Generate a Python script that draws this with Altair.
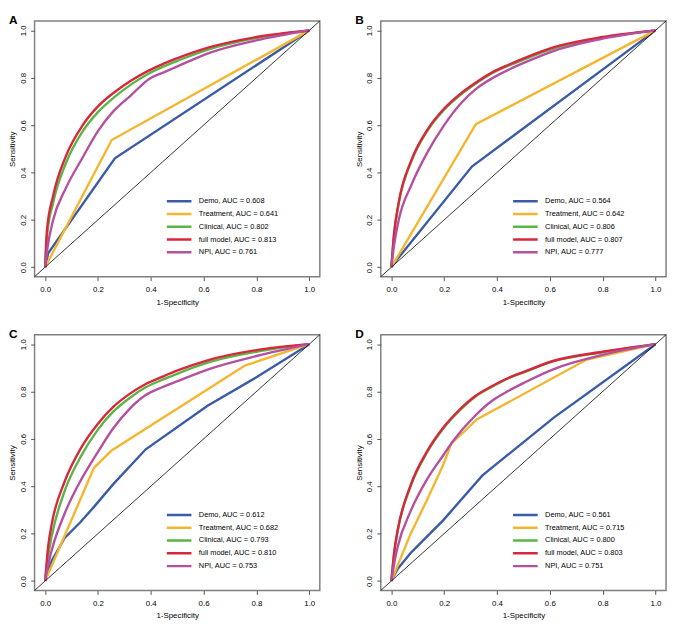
import altair as alt
import pandas as pd

MODELS = ["Demo", "Treatment", "Clinical", "full model", "NPI"]
COLORS = ["#3a5ba6", "#f5b62f", "#5cb346", "#d8263c", "#b4509f"]
TICKS = [0.0, 0.2, 0.4, 0.6, 0.8, 1.0]
DIAG = [-0.04, 1.04]

AUC_A = [0.608, 0.641, 0.802, 0.813, 0.761]
AUC_B = [0.564, 0.642, 0.806, 0.807, 0.777]
AUC_C = [0.612, 0.682, 0.793, 0.810, 0.753]
AUC_D = [0.561, 0.715, 0.800, 0.803, 0.751]

# ---- Panel A ----
A_DEMO_FPR = [0, 0.012, 0.264, 1]
A_DEMO_TPR = [0, 0.06, 0.46, 1]
A_TREAT_FPR = [0, 0.252, 1]
A_TREAT_TPR = [0, 0.537, 1]
A_SMOOTH_FPR = [0, 0.007, 0.03, 0.079, 0.14, 0.2, 0.264, 0.326, 0.388, 0.449, 0.511, 0.62, 0.8, 1]
A_CLIN_TPR = [0, 0.13, 0.27, 0.44, 0.57, 0.655, 0.72, 0.772, 0.815, 0.848, 0.876, 0.92, 0.968, 1]
A_FULL_TPR = [0, 0.157, 0.30, 0.47, 0.596, 0.679, 0.74, 0.788, 0.828, 0.86, 0.887, 0.928, 0.972, 1]
A_NPI_FPR = [0, 0.01, 0.03, 0.079, 0.14, 0.2, 0.258, 0.326, 0.394, 0.449, 0.511, 0.622, 0.8, 1]
A_NPI_TPR = [0, 0.09, 0.198, 0.335, 0.459, 0.575, 0.658, 0.727, 0.795, 0.823, 0.853, 0.905, 0.958, 1]

# ---- Panel B ----
B_DEMO_FPR = [0, 0.02, 0.305, 1]
B_DEMO_TPR = [0, 0.03, 0.425, 1]
B_TREAT_FPR = [0, 0.32, 1]
B_TREAT_TPR = [0, 0.604, 1]
B_SMOOTH_FPR = [0, 0.01, 0.028, 0.077, 0.139, 0.2, 0.262, 0.323, 0.385, 0.446, 0.508, 0.619, 0.8, 1]
B_CLIN_TPR = [0, 0.135, 0.27, 0.45, 0.58, 0.665, 0.728, 0.778, 0.821, 0.852, 0.88, 0.925, 0.969, 1]
B_FULL_TPR = [0, 0.14, 0.275, 0.455, 0.585, 0.67, 0.733, 0.782, 0.825, 0.856, 0.885, 0.93, 0.972, 1]
B_NPI_TPR = [0, 0.09, 0.2, 0.35, 0.49, 0.6, 0.69, 0.755, 0.8, 0.835, 0.866, 0.915, 0.965, 1]

# ---- Panel C ----
C_DEMO_FPR = [0, 0.025, 0.074, 0.135, 0.185, 0.258, 0.381, 0.615, 0.8, 1]
C_DEMO_TPR = [0, 0.085, 0.182, 0.25, 0.313, 0.409, 0.556, 0.74, 0.86, 1]
C_TREAT_FPR = [0, 0.185, 0.252, 0.755, 1]
C_TREAT_TPR = [0, 0.478, 0.551, 0.909, 1]
C_SMOOTH_FPR = [0, 0.012, 0.025, 0.074, 0.135, 0.197, 0.258, 0.32, 0.381, 0.443, 0.504, 0.615, 0.8, 1]
C_CLIN_TPR = [0, 0.11, 0.19, 0.38, 0.525, 0.635, 0.715, 0.773, 0.818, 0.849, 0.877, 0.922, 0.968, 1]
C_FULL_TPR = [0, 0.15, 0.24, 0.42, 0.56, 0.66, 0.735, 0.79, 0.832, 0.862, 0.89, 0.932, 0.975, 1]
C_NPI_TPR = [0, 0.07, 0.13, 0.285, 0.425, 0.54, 0.645, 0.727, 0.785, 0.818, 0.845, 0.893, 0.95, 1]

# ---- Panel D ----
D_DEMO_FPR = [0, 0.023, 0.073, 0.196, 0.344, 0.615, 1]
D_DEMO_TPR = [0, 0.05, 0.118, 0.256, 0.445, 0.69, 1]
D_TREAT_FPR = [0, 0.073, 0.134, 0.196, 0.227, 0.325, 0.74, 1]
D_TREAT_TPR = [0, 0.2, 0.34, 0.49, 0.58, 0.683, 0.935, 1]
D_SMOOTH_FPR = [0, 0.011, 0.023, 0.073, 0.134, 0.196, 0.257, 0.319, 0.38, 0.442, 0.504, 0.615, 0.8, 1]
D_CLIN_TPR = [0, 0.12, 0.205, 0.4, 0.541, 0.643, 0.718, 0.779, 0.819, 0.855, 0.882, 0.928, 0.966, 1]
D_FULL_TPR = [0, 0.125, 0.21, 0.405, 0.545, 0.647, 0.722, 0.782, 0.822, 0.857, 0.884, 0.93, 0.968, 1]
D_NPI_FPR = [0, 0.011, 0.023, 0.073, 0.134, 0.196, 0.233, 0.319, 0.38, 0.442, 0.504, 0.615, 0.8, 1]
D_NPI_TPR = [0, 0.075, 0.14, 0.295, 0.427, 0.53, 0.59, 0.7, 0.76, 0.802, 0.838, 0.895, 0.955, 1]

CURVES = {
    "A": [(A_DEMO_FPR, A_DEMO_TPR), (A_TREAT_FPR, A_TREAT_TPR), (A_SMOOTH_FPR, A_CLIN_TPR),
          (A_SMOOTH_FPR, A_FULL_TPR), (A_NPI_FPR, A_NPI_TPR)],
    "B": [(B_DEMO_FPR, B_DEMO_TPR), (B_TREAT_FPR, B_TREAT_TPR), (B_SMOOTH_FPR, B_CLIN_TPR),
          (B_SMOOTH_FPR, B_FULL_TPR), (B_SMOOTH_FPR, B_NPI_TPR)],
    "C": [(C_DEMO_FPR, C_DEMO_TPR), (C_TREAT_FPR, C_TREAT_TPR), (C_SMOOTH_FPR, C_CLIN_TPR),
          (C_SMOOTH_FPR, C_FULL_TPR), (C_SMOOTH_FPR, C_NPI_TPR)],
    "D": [(D_DEMO_FPR, D_DEMO_TPR), (D_TREAT_FPR, D_TREAT_TPR), (D_SMOOTH_FPR, D_CLIN_TPR),
          (D_SMOOTH_FPR, D_FULL_TPR), (D_NPI_FPR, D_NPI_TPR)],
}
AUCS = {"A": AUC_A, "B": AUC_B, "C": AUC_C, "D": AUC_D}

FONT = "Liberation Sans"
diag_df = pd.DataFrame({"fpr": DIAG, "tpr": DIAG})


def panel(p):
    labels = [f"{m}, AUC = {a:.3f}" for m, a in zip(MODELS, AUCS[p])]
    rows = []
    for m, lab, (fx, ty) in zip(MODELS, labels, CURVES[p]):
        for i, (a, b) in enumerate(zip(fx, ty)):
            rows.append({"model": m, "label": lab, "fpr": a, "tpr": b, "idx": i})
    df = pd.DataFrame(rows)

    xs = alt.Scale(domain=DIAG, nice=False, zero=False)
    x = alt.X("fpr:Q", scale=xs,
              axis=alt.Axis(values=TICKS, format=".1f", title="1-Specificity",
                            labelPadding=5, titlePadding=5))
    y = alt.Y("tpr:Q", scale=xs,
              axis=alt.Axis(values=TICKS, format=".1f", title="Sensitivity",
                            labelAngle=270, labelAlign="center", labelBaseline="bottom",
                            labelPadding=3, titlePadding=3))
    color = alt.Color("label:N", scale=alt.Scale(domain=labels, range=COLORS),
                      legend=alt.Legend(orient="none", legendX=133, legendY=177, title=None,
                                        symbolType="stroke", symbolSize=625, symbolStrokeWidth=2.5,
                                        clipHeight=12.5, rowPadding=0, labelFontSize=7.5,
                                        labelFont=FONT, labelOffset=6, padding=0))
    layers = []
    for m in MODELS:
        interp = "linear" if m in ("Demo", "Treatment") else "monotone"
        layers.append(
            alt.Chart(df).transform_filter(alt.datum.model == m)
            .mark_line(strokeWidth=2.4, interpolate=interp)
            .encode(x=x, y=y, color=color, order="idx:Q")
        )
    layers.append(
        alt.Chart(diag_df).mark_line(color="black", strokeWidth=0.8)
        .encode(x=alt.X("fpr:Q", scale=xs), y=alt.Y("tpr:Q", scale=xs))
    )
    return alt.layer(*layers).properties(
        width=290, height=260,
        title=alt.TitleParams(p, anchor="start", frame="bounds", offset=-8),
    )


top = (alt.hconcat(panel("A"), panel("B"), spacing=32)
       .resolve_scale(color="independent").resolve_legend(color="independent"))
bottom = (alt.hconcat(panel("C"), panel("D"), spacing=32)
          .resolve_scale(color="independent").resolve_legend(color="independent"))
chart = (
    alt.vconcat(top, bottom, spacing=20)
    .resolve_scale(color="independent").resolve_legend(color="independent")
    .properties(padding={"left": 0, "top": 0, "right": 0, "bottom": 0})
    .configure_view(stroke="#808080", strokeWidth=1.5)
    .configure_axis(grid=False, domain=False, tickColor="#555555", tickSize=4,
                    labelFontSize=8, titleFontSize=8, labelFont=FONT, titleFont=FONT,
                    labelColor="black", titleColor="black", titleFontWeight="normal")
    .configure_title(fontSize=12, font=FONT, fontWeight="bold", anchor="start", color="black")
)
chart.save("out.html", embed_options={"renderer": "svg", "actions": False})
